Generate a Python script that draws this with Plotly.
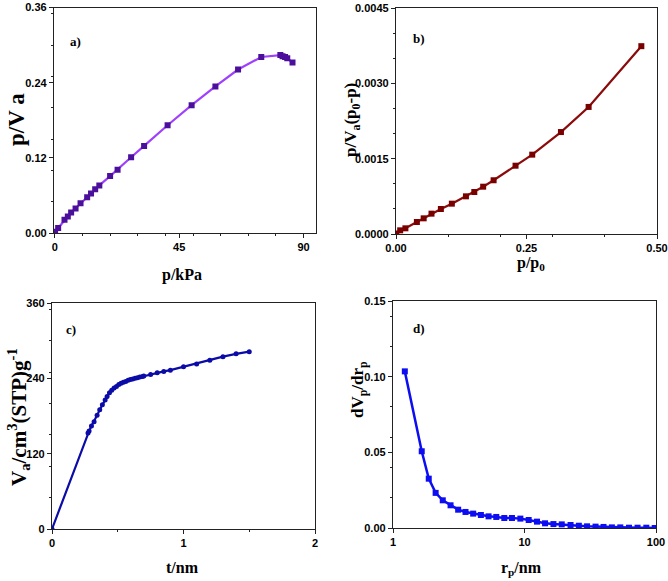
import plotly.graph_objects as go

# Panel a: p/Va vs p/kPa
a_p = [0.0, 0.1, 1.2, 3.5, 4.7, 5.9, 7.5, 9.3, 11.7, 13.1, 14.6, 16.1, 20.0, 22.7, 27.6, 32.3,
       40.8, 49.5, 58.1, 66.3, 74.7, 81.6, 82.4, 83.3, 84.1, 86.0]
a_pva = [0.0005, 0.002, 0.008, 0.0211, 0.0264, 0.0327, 0.039, 0.0475, 0.057, 0.063, 0.0697, 0.076,
         0.0908, 0.101, 0.121, 0.139, 0.172, 0.204, 0.234, 0.261, 0.281, 0.284, 0.282, 0.281, 0.279, 0.272]

# Panel b: BET plot
b_x = [0.0006, 0.008, 0.018, 0.040, 0.053, 0.068, 0.086, 0.107, 0.134, 0.150, 0.167, 0.187,
       0.229, 0.261, 0.316, 0.369, 0.470]
b_y = [0.00001, 0.000073, 0.000113, 0.000239, 0.000312, 0.000405, 0.000498, 0.000604, 0.00075,
       0.000836, 0.000942, 0.00107, 0.00136, 0.00158, 0.00203, 0.00253, 0.00374]

# Panel c: t-plot
c_t = [0.0, 0.274, 0.282, 0.300, 0.320, 0.343, 0.363, 0.383, 0.404, 0.419, 0.437, 0.454, 0.472,
       0.490, 0.508, 0.525, 0.543, 0.561, 0.579, 0.596, 0.614, 0.632, 0.650, 0.668, 0.688, 0.698,
       0.75, 0.80, 0.85, 0.90, 1.0, 1.1, 1.2, 1.3, 1.4, 1.5]
c_v = [0, 153, 156, 164, 171, 181, 190, 198, 205.5, 211, 217, 221, 224.6, 227, 230, 232, 233.6,
       235, 237, 238, 239, 240, 241, 242, 243, 243.7, 246, 249, 251, 253, 258.6, 263, 268.7, 274.5,
       279, 282.5]

# Panel d: pore size distribution
d_r = [1.23, 1.654, 1.87, 2.11, 2.39, 2.74, 3.13, 3.56, 4.07, 4.66, 5.33, 6.1, 7.02, 8.03, 9.3,
       10.76, 12.45, 14.33, 16.6, 19.2, 22.4, 25.9, 29.9, 34.7, 39.9, 46.2, 53.5, 62.3, 72.4, 84.4, 97.7]
d_dv = [0.1035, 0.0507, 0.0326, 0.0232, 0.0183, 0.015, 0.0121, 0.0106, 0.0095, 0.0086, 0.0077,
        0.0073, 0.0066, 0.0066, 0.0062, 0.0053, 0.0042, 0.0031, 0.0026, 0.0024, 0.002, 0.0015,
        0.0011, 0.0009, 0.0007, 0.0004, 0.0004, 0.0002, 0.0002, 0.0002, 0.0]

a_xticks = [0, 45, 90]
a_yticks = [0, 0.12, 0.24, 0.36]
a_yticktext = ["0.00", "0.12", "0.24", "0.36"]
b_xticks = [0, 0.25, 0.5]
b_xticktext = ["0.00", "0.25", "0.50"]
b_yticks = [0, 0.0015, 0.003, 0.0045]
b_yticktext = ["0.0000", "0.0015", "0.0030", "0.0045"]
c_xticks = [0, 1, 2]
c_yticks = [0, 120, 240, 360]
d_xticks = [1, 10, 100]
d_yticks = [0, 0.05, 0.10, 0.15]
d_yticktext = ["0.00", "0.05", "0.10", "0.15"]

W, H = 668, 581

def dom_x(a, b):
    return [a / W, b / W]

def dom_y(top, bottom):
    return [1 - bottom / H, 1 - top / H]

fig = go.Figure()
fig.add_trace(go.Scatter(x=a_p, y=a_pva, mode="lines+markers", xaxis="x", yaxis="y",
                         line=dict(color="#a040ff", width=2.2),
                         marker=dict(symbol="square", size=6, color="#4b0f9c")))
fig.add_trace(go.Scatter(x=b_x, y=b_y, mode="lines+markers", xaxis="x2", yaxis="y2",
                         line=dict(color="#8b0a0a", width=2.2),
                         marker=dict(symbol="square", size=6, color="#7a0000")))
fig.add_trace(go.Scatter(x=c_t, y=c_v, mode="lines+markers", xaxis="x3", yaxis="y3",
                         line=dict(color="#0b0ba8", width=2.2),
                         marker=dict(symbol="circle", size=5, color="#0b0ba8")))
fig.add_trace(go.Scatter(x=d_r, y=d_dv, mode="lines+markers", xaxis="x4", yaxis="y4",
                         line=dict(color="#0d0df2", width=2.5),
                         marker=dict(symbol="square", size=6, color="#0d0df2")))

tickfont = dict(family="Liberation Sans Narrow, Arial Narrow, Liberation Sans, Arial", size=11,
                color="black", weight="bold")
common = dict(showline=True, linecolor="#222", linewidth=1.3, mirror=True, ticks="outside",
              ticklen=4, tickwidth=1, tickcolor="#222", showgrid=False, zeroline=False,
              automargin=False, tickfont=tickfont,
              minor=dict(ticks="outside", ticklen=2, nticks=2, tickcolor="#222"))
common_nominor = {k: v for k, v in common.items() if k != "minor"}

fig.update_layout(
    width=W, height=H, margin=dict(l=0, r=0, t=0, b=0, autoexpand=False), showlegend=False,
    plot_bgcolor="white", paper_bgcolor="white",
    xaxis=dict(domain=dom_x(54, 316), range=[-0.3, 94.5], tickvals=a_xticks, anchor="y", **common),
    yaxis=dict(domain=dom_y(7.5, 233), range=[0, 0.36], tickvals=a_yticks, ticktext=a_yticktext,
               anchor="x", **common),
    xaxis2=dict(domain=dom_x(396, 657), range=[0, 0.5], tickvals=b_xticks, ticktext=b_xticktext,
                anchor="y2", **common),
    yaxis2=dict(domain=dom_y(8, 234), range=[0, 0.0045], tickvals=b_yticks, ticktext=b_yticktext,
                anchor="x2", **common),
    xaxis3=dict(domain=dom_x(52, 315), range=[0, 2], tickvals=c_xticks, anchor="y3", **common),
    yaxis3=dict(domain=dom_y(303, 529), range=[0, 360], tickvals=c_yticks, anchor="x3", **common),
    xaxis4=dict(domain=dom_x(393, 656), type="log", range=[0, 2], tickvals=d_xticks,
                ticktext=["1", "10", "100"], anchor="y4", **common_nominor),
    yaxis4=dict(domain=dom_y(301, 528), range=[0, 0.15], tickvals=d_yticks, ticktext=d_yticktext,
                anchor="x4", **common),
)

serif = "Liberation Serif, Times New Roman, serif"

def ann(text, x, y, size, angle=0):
    fig.add_annotation(text=text, x=x / W, y=1 - y / H, xref="paper", yref="paper",
                       showarrow=False, textangle=angle, xanchor="center", yanchor="middle",
                       font=dict(family=serif, size=size, color="black", weight="bold"))

# panel labels
ann("a)", 75, 41, 13)
ann("b)", 419, 38, 13)
ann("c)", 71, 329, 13)
ann("d)", 419, 328, 13)

# axis titles
ann("p/kPa", 182, 275, 16)
ann("p/V a", 17, 120, 23, -90)
ann("p/p<sub>0</sub>", 531, 263, 16)
ann("p/V<sub>a</sub>(p<sub>0</sub>-p)", 352, 120, 17, -90)
ann("t/nm", 182, 567, 16)
ann("V<sub>a</sub>/cm<sup>3</sup>(STP)g<sup>-1</sup>", 18, 417, 21, -90)
ann("r<sub>p</sub>/nm", 521, 568, 16)
ann("dV<sub>p</sub>/dr<sub>p</sub>", 359, 390, 17, -90)

fig.write_html("out.html", config={"displayModeBar": False},
               post_script="document.body.style.margin='0';document.body.style.overflow='hidden';")
